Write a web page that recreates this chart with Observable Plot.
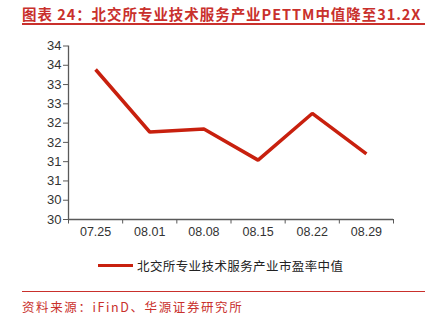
<!DOCTYPE html>
<html><head><meta charset="utf-8">
<script src="https://cdn.jsdelivr.net/npm/d3@7"></script>
<script src="https://cdn.jsdelivr.net/npm/@observablehq/plot@0.6"></script>
<style>
html,body{margin:0;padding:0;background:#fff;}
#wrap{position:relative;width:427px;height:318px;overflow:hidden;font-family:"Liberation Sans",Arial,sans-serif;}
#title{position:absolute;left:22px;top:3px;font-family:"Noto Sans CJK SC",sans-serif;font-weight:bold;font-size:14.5px;color:#c9302c;white-space:nowrap;letter-spacing:0.95px;}
#tline{position:absolute;left:22px;top:23px;width:403px;height:1.5px;background:#c9302c;}
#chart{position:absolute;left:0;top:0;}
#legend{position:absolute;left:98px;top:256px;display:flex;align-items:center;font-family:"Noto Sans CJK SC",sans-serif;font-size:12.5px;color:#222;white-space:nowrap;letter-spacing:0.4px;}
#legend .sw{width:35px;height:3.5px;background:#c8200e;margin-right:4px;}
#sline{position:absolute;left:22px;top:291px;width:403px;height:1px;background:#c9302c;}
#source{position:absolute;left:22px;top:297px;font-family:"Noto Sans CJK SC",sans-serif;font-size:12.5px;color:#c9302c;white-space:nowrap;letter-spacing:1.6px;}
</style></head>
<body>
<div id="wrap">
<div id="title"></div>
<div id="tline"></div>
<div id="chart"></div>
<div id="legend"><div class="sw"></div><span id="legtext"></span></div>
<div id="sline"></div>
<div id="source"></div>
</div>
<script>
const titleText = "图表 24：北交所专业技术服务产业PETTM中值降至31.2X";
const seriesName = "北交所专业技术服务产业市盈率中值";
const sourceText = "资料来源：iFinD、华源证券研究所";
const dates = ["07.25", "08.01", "08.08", "08.15", "08.22", "08.29"];
const values = [33.39, 31.77, 31.85, 31.04, 32.25, 31.2];
const yTicks = [29.5, 30, 30.5, 31, 31.5, 32, 32.5, 33, 33.5, 34];

document.getElementById("title").textContent = titleText;
document.getElementById("legtext").textContent = seriesName;
document.getElementById("source").textContent = sourceText;

const data = dates.map((d, i) => ({i, date: d, value: values[i]}));
const boundaries = d3.range(-0.5, dates.length, 1);
const axisColor = "#595959";

const chart = Plot.plot({
  width: 427,
  height: 250,
  marginLeft: 68,
  marginRight: 34,
  marginTop: 45.5,
  marginBottom: 31,
  style: {fontFamily: "'Liberation Sans', Arial, sans-serif", fontSize: "12px", color: "#333", background: "transparent"},
  x: {type: "linear", domain: [-0.5, dates.length - 0.5]},
  y: {domain: [29.5, 34]},
  marks: [
    Plot.axisY({ticks: yTicks, tickSize: 5, tickPadding: 2, stroke: axisColor, tickFormat: d => String(Math.round(d + 1e-9)), label: null, fill: "#333", fontSize: 13}),
    Plot.ruleX([-0.5], {stroke: axisColor, strokeWidth: 1.3}),
    Plot.axisX({ticks: boundaries, tickSize: 4.5, tickFormat: () => "", stroke: axisColor, label: null}),
    Plot.axisX({ticks: d3.range(dates.length), tickSize: 0, tickPadding: 8, tickFormat: i => dates[i], label: null, fill: "#333", fontSize: 12.5}),
    Plot.ruleY([29.5], {stroke: axisColor, strokeWidth: 1.3}),
    Plot.line(data, {x: "i", y: "value", stroke: "#c8200e", strokeWidth: 3.5, strokeLinejoin: "miter", strokeLinecap: "butt"})
  ]
});
document.getElementById("chart").appendChild(chart);
</script>
</body></html>
